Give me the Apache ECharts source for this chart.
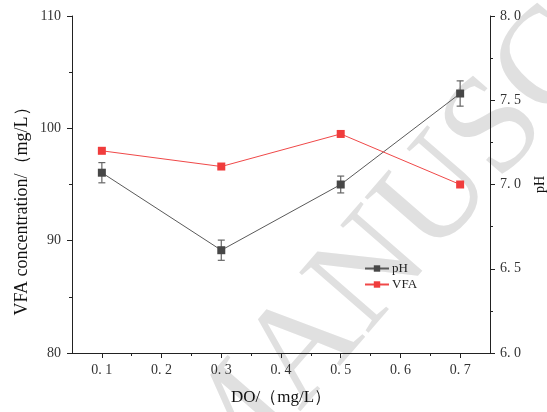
<!DOCTYPE html>
<html>
<head>
<meta charset="utf-8">
<script src="https://cdn.jsdelivr.net/npm/echarts@6/dist/echarts.min.js"></script>
<style>
  html, body { margin: 0; padding: 0; background: #fff; }
  #chart { width: 547px; height: 412px; }
</style>
</head>
<body>
<div id="chart"></div>
<script>
// Dissolved oxygen levels (mg/L)
const doLevels = [0.1, 0.3, 0.5, 0.7];
// x-axis tick labels and in-between minor tick positions
const xTickValues = [0.1, 0.2, 0.3, 0.4, 0.5, 0.6, 0.7];
const xMinorValues = [0.15, 0.25, 0.35, 0.45, 0.55, 0.65];
// pH, with standard deviation
const phValues = [7.07, 6.61, 7.00, 7.54];
const phErrors = [0.06, 0.06, 0.05, 0.075];
// VFA concentration (mg/L)
const vfaValues = [98.0, 96.6, 99.5, 95.0];

const SERIF = '"Liberation Serif", "DejaVu Serif", serif';

function fmtTick(v) {
  // "0. 1" style labels with a spaced decimal point
  return v.toFixed(1).replace('.', '. ');
}

const chart = echarts.init(document.getElementById('chart'), null, { renderer: 'canvas' });

const phPairs = doLevels.map((x, i) => [x, phValues[i]]);
const vfaPairs = doLevels.map((x, i) => [x, vfaValues[i]]);
const errPairs = doLevels.map((x, i) => [x, phValues[i] - phErrors[i], phValues[i] + phErrors[i]]);

const axisColor = '#222';

chart.setOption({
  animation: false,
  backgroundColor: '#fff',
  grid: { left: 72, right: 57, top: 16, bottom: 59, outerBoundsMode: 'none', containLabel: false },
  graphic: [{
    // faint diagonal watermark lettering
    type: 'text',
    z: -10,
    silent: true,
    x: 190, y: 482,
    rotation: 49 * Math.PI / 180,
    style: {
      text: 'MANUSCRIPT',
      x: 0, y: 0,
      textAlign: 'left',
      textVerticalAlign: 'middle',
      font: '140px ' + SERIF,
      fill: '#e0e0e0'
    }
  }, {
    // left axis title
    type: 'text',
    silent: true,
    x: 22, y: 207,
    rotation: Math.PI / 2,
    style: {
      text: 'VFA concentration/（mg/L）',
      x: 0, y: 0,
      textAlign: 'center',
      textVerticalAlign: 'middle',
      font: '18px ' + SERIF,
      fill: '#111'
    }
  }],
  legend: {
    orient: 'vertical',
    left: 359, top: 257,
    itemWidth: 24, itemHeight: 8,
    itemGap: 3,
    textStyle: { fontFamily: SERIF, fontSize: 13, color: '#222', padding: [0, 0, 0, -2] },
    data: ['pH', 'VFA']
  },
  xAxis: [{
    type: 'value',
    min: 0.05, max: 0.75,
    interval: 0.1,
    name: 'DO/（mg/L）',
    nameLocation: 'middle',
    nameGap: 36,
    nameTextStyle: { fontFamily: SERIF, fontSize: 17, color: '#111' },
    axisLine: { show: true, onZero: false, lineStyle: { color: axisColor, width: 1 } },
    axisTick: { show: true, length: 5, lineStyle: { color: axisColor }, customValues: xTickValues },
    axisLabel: {
      fontFamily: SERIF, fontSize: 14, color: '#333', margin: 10,
      customValues: xTickValues,
      formatter: fmtTick
    },
    splitLine: { show: false }
  }, {
    // carries only the short in-between ticks
    type: 'value',
    position: 'bottom',
    min: 0.05, max: 0.75,
    axisLine: { show: false, onZero: false },
    axisTick: { show: true, length: 3, lineStyle: { color: axisColor }, customValues: xMinorValues },
    axisLabel: { show: false },
    splitLine: { show: false }
  }],
  yAxis: [{
    type: 'value',
    position: 'left',
    min: 80, max: 110, interval: 10,
    axisLine: { show: true, lineStyle: { color: axisColor, width: 1 } },
    axisTick: { show: true, length: 5, lineStyle: { color: axisColor } },
    minorTick: { show: true, splitNumber: 2, length: 3, lineStyle: { color: axisColor } },
    axisLabel: { fontFamily: SERIF, fontSize: 14, color: '#333', margin: 11 },
    splitLine: { show: false }
  }, {
    type: 'value',
    position: 'right',
    min: 6, max: 8, interval: 0.5,
    name: 'pH',
    nameLocation: 'middle',
    nameGap: 43,
    nameRotate: 90,
    nameTextStyle: { fontFamily: SERIF, fontSize: 14, color: '#111' },
    axisLine: { show: true, lineStyle: { color: axisColor, width: 1 } },
    axisTick: { show: true, length: 5, lineStyle: { color: axisColor } },
    minorTick: { show: true, splitNumber: 2, length: 3, lineStyle: { color: axisColor } },
    axisLabel: { fontFamily: SERIF, fontSize: 14, color: '#333', margin: 10, formatter: fmtTick },
    splitLine: { show: false }
  }],
  series: [{
    name: 'pH',
    type: 'line',
    yAxisIndex: 1,
    data: phPairs,
    symbol: 'rect',
    symbolSize: 8,
    z: 5,
    itemStyle: { color: '#474747' },
    lineStyle: { color: '#5a5a5a', width: 1 }
  }, {
    name: 'VFA',
    type: 'line',
    yAxisIndex: 0,
    data: vfaPairs,
    symbol: 'rect',
    symbolSize: 8,
    z: 5,
    itemStyle: { color: '#f03c3c' },
    lineStyle: { color: '#f04848', width: 1 }
  }, {
    name: 'pH error',
    type: 'custom',
    yAxisIndex: 1,
    data: errPairs,
    z: 4,
    renderItem: function (params, api) {
      const x = api.value(0);
      const lo = api.coord([x, api.value(1)]);
      const hi = api.coord([x, api.value(2)]);
      const cap = 3.5;
      const style = { stroke: '#666', lineWidth: 1.2 };
      return {
        type: 'group',
        children: [
          { type: 'line', shape: { x1: lo[0], y1: lo[1], x2: hi[0], y2: hi[1] }, style: style },
          { type: 'line', shape: { x1: lo[0] - cap, y1: lo[1], x2: lo[0] + cap, y2: lo[1] }, style: style },
          { type: 'line', shape: { x1: hi[0] - cap, y1: hi[1], x2: hi[0] + cap, y2: hi[1] }, style: style }
        ]
      };
    },
    encode: { x: 0, y: [1, 2] }
  }]
});
</script>
</body>
</html>
